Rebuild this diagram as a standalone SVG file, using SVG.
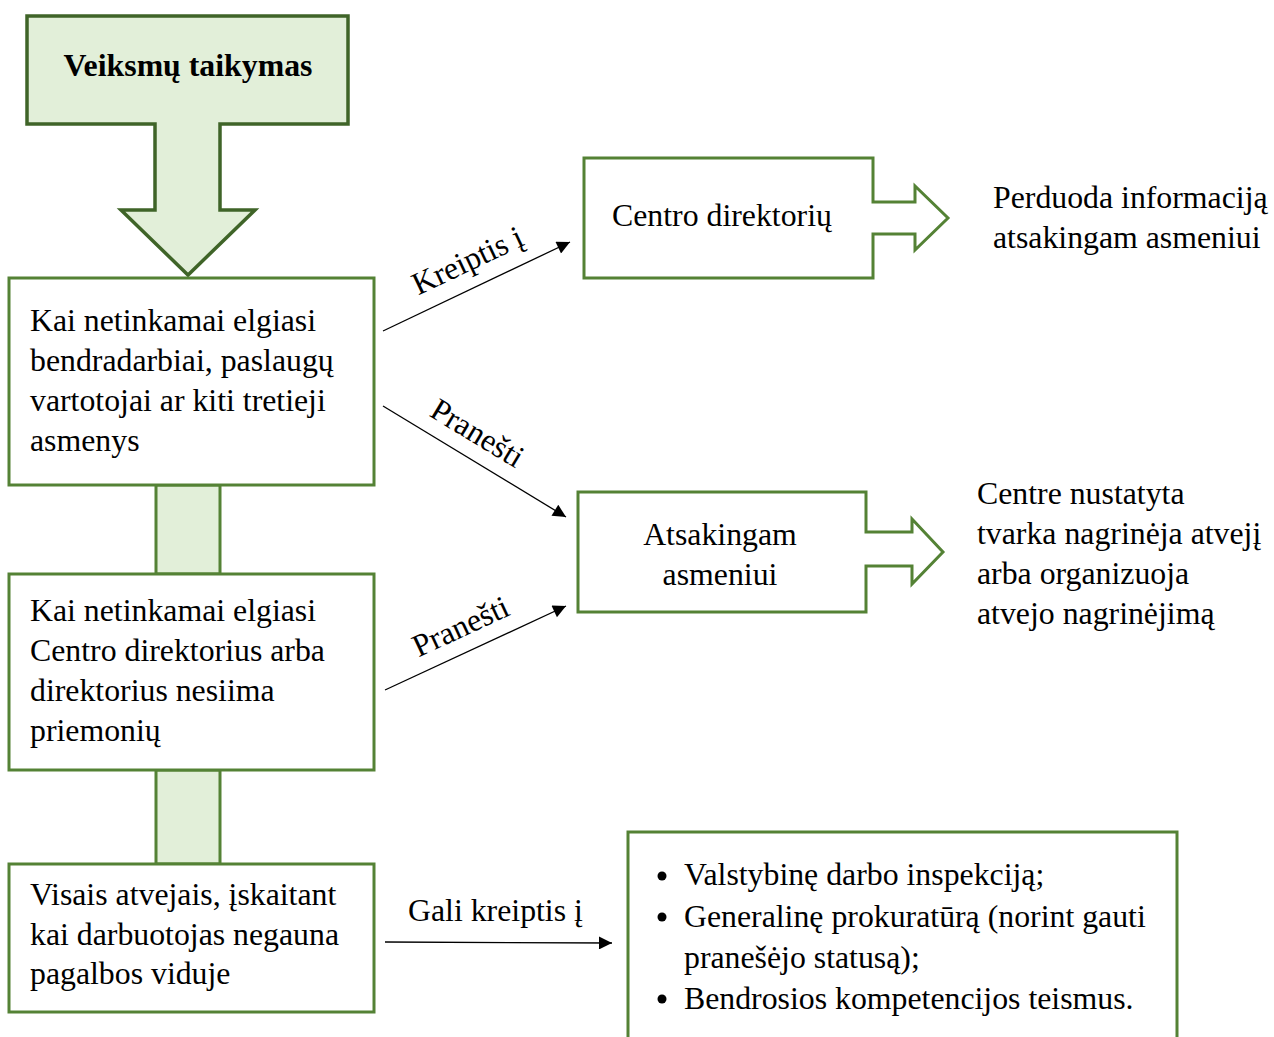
<svg xmlns="http://www.w3.org/2000/svg" width="1274" height="1037" viewBox="0 0 1274 1037">
<style>
.box{fill:#fff;stroke:#548235;stroke-width:3}
.bar{fill:#e2efd9;stroke:#548235;stroke-width:3}
.t{font-family:"Liberation Serif","Times New Roman",serif;font-size:31.8px;fill:#000}
.b{font-weight:bold}
.ln{stroke:#000;stroke-width:1.3;fill:none;marker-end:url(#ah)}
</style>
<defs>
<marker id="ah" viewBox="0 0 10 10" refX="10" refY="5" markerWidth="15" markerHeight="13" markerUnits="userSpaceOnUse" orient="auto">
<path d="M0,0 L10,5 L0,10 z" fill="#000"/>
</marker>
</defs>
<rect width="1274" height="1037" fill="#fff"/>

<g id="bars">
<rect class="bar" x="156" y="485" width="64" height="89"/>
<rect class="bar" x="156" y="770" width="64" height="94"/>
</g>

<g id="top">
<path d="M27,16 H348 V124 H220 V210 H255 L188,275 L121,210 H155 V124 H27 Z" fill="#e2efd9" stroke="#3f6428" stroke-width="3.5"/>
<text class="t b" x="188" y="76" text-anchor="middle">Veiksmų taikymas</text>
</g>

<g id="n1">
<rect class="box" x="9" y="278" width="365" height="207"/>
<text class="t" x="30" y="331">Kai netinkamai elgiasi</text>
<text class="t" x="30" y="371">bendradarbiai, paslaugų</text>
<text class="t" x="30" y="411">vartotojai ar kiti tretieji</text>
<text class="t" x="30" y="451">asmenys</text>
</g>

<g id="n2">
<rect class="box" x="9" y="574" width="365" height="196"/>
<text class="t" x="30" y="621">Kai netinkamai elgiasi</text>
<text class="t" x="30" y="661">Centro direktorius arba</text>
<text class="t" x="30" y="701">direktorius nesiima</text>
<text class="t" x="30" y="741">priemonių</text>
</g>

<g id="n3">
<rect class="box" x="9" y="864" width="365" height="148"/>
<text class="t" x="30" y="905">Visais atvejais, įskaitant</text>
<text class="t" x="30" y="945">kai darbuotojas negauna</text>
<text class="t" x="30" y="984">pagalbos viduje</text>
</g>

<g id="centro">
<path class="box" d="M584,158 H873 V202 H915 V186 L948,218 L915,250 V234 H873 V278 H584 Z"/>
<text class="t" x="612" y="226">Centro direktorių</text>
</g>

<g id="atsak">
<path class="box" d="M578,492 H866 V532 H912 V519 L943,552 L912,584 V566 H866 V612 H578 Z"/>
<text class="t" x="720" y="545" text-anchor="middle">Atsakingam</text>
<text class="t" x="720" y="585" text-anchor="middle">asmeniui</text>
</g>

<g id="perduoda">
<text class="t" x="993" y="208">Perduoda informaciją</text>
<text class="t" x="993" y="248">atsakingam asmeniui</text>
</g>

<g id="centre">
<text class="t" x="977" y="504">Centre nustatyta</text>
<text class="t" x="977" y="544">tvarka nagrinėja atvejį</text>
<text class="t" x="977" y="584">arba organizuoja</text>
<text class="t" x="977" y="624">atvejo nagrinėjimą</text>
</g>

<g id="inst">
<path class="box" d="M628,1040 V832 H1177 V1040"/>
<circle cx="662" cy="876" r="4.5" fill="#000"/>
<circle cx="662" cy="917" r="4.5" fill="#000"/>
<circle cx="662" cy="999" r="4.5" fill="#000"/>
<text class="t" x="684" y="885">Valstybinę darbo inspekciją;</text>
<text class="t" x="684" y="927">Generalinę prokuratūrą (norint gauti</text>
<text class="t" x="684" y="968">pranešėjo statusą);</text>
<text class="t" x="684" y="1009">Bendrosios kompetencijos teismus.</text>
</g>

<g id="connectors">
<line class="ln" x1="383" y1="331" x2="570" y2="242"/>
<line class="ln" x1="383" y1="406" x2="566" y2="517"/>
<line class="ln" x1="385" y1="690" x2="566" y2="606"/>
<line class="ln" x1="385" y1="942" x2="612" y2="943"/>
<text class="t" transform="translate(472,270) rotate(-25.4)" text-anchor="middle">Kreiptis į</text>
<text class="t" transform="translate(472,442) rotate(31.2)" text-anchor="middle">Pranešti</text>
<text class="t" transform="translate(465,636) rotate(-24.9)" text-anchor="middle">Pranešti</text>
<text class="t" x="408" y="921">Gali kreiptis į</text>
</g>
</svg>
